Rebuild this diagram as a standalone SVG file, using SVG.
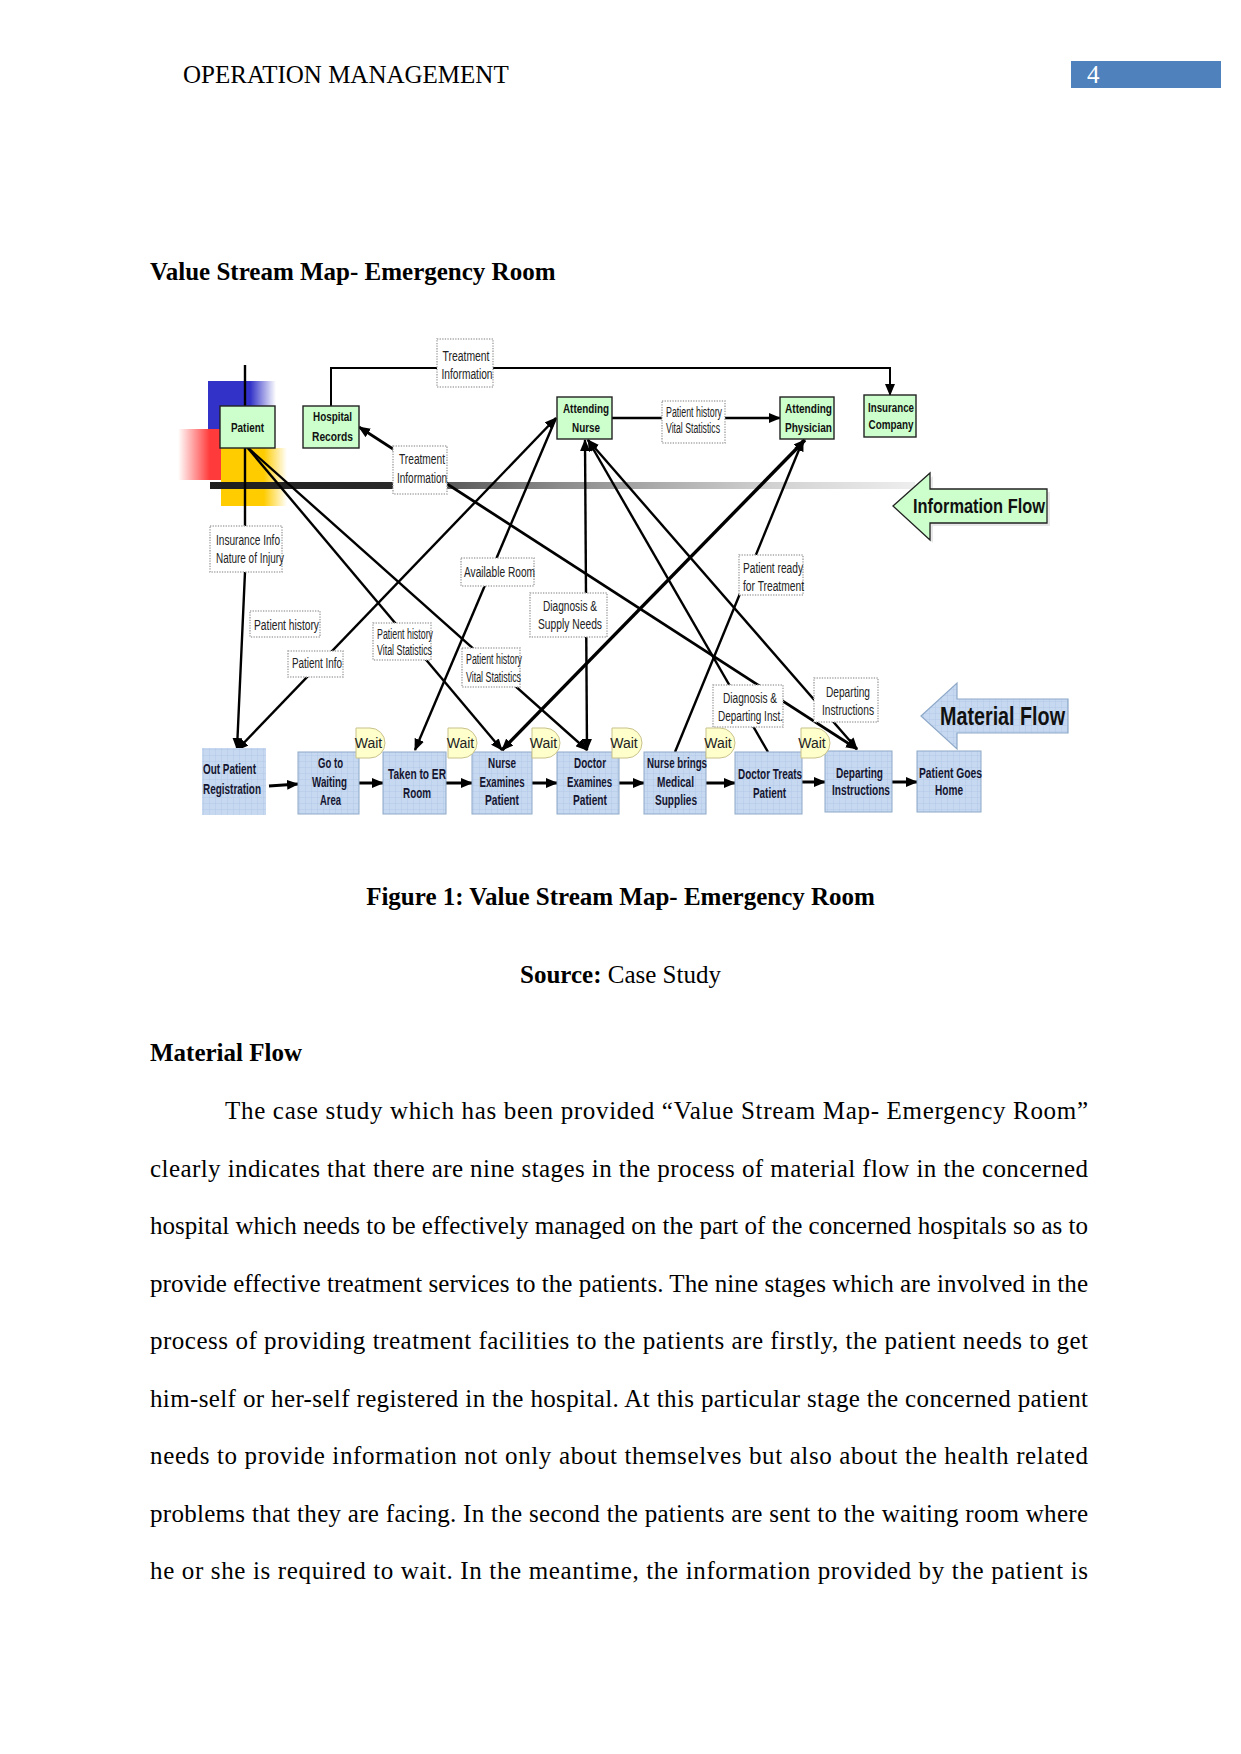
<svg xmlns="http://www.w3.org/2000/svg" width="1241" height="1754" viewBox="0 0 1241 1754">
<style>
.serif{font-family:"Liberation Serif","Times New Roman",serif;font-size:25px;fill:#000}
.b{font-weight:bold}
.gn rect{fill:#ccffcc;stroke:#222;stroke-width:1.4}
.gt{font-family:"Liberation Sans Narrow","Liberation Sans",Arial,sans-serif;font-weight:bold;font-size:13.5px;text-anchor:middle;fill:#111}
.lb rect{fill:#fff;stroke:#a8a8a8;stroke-width:1.5;stroke-dasharray:1.3 1.3}
.lt{font-family:"Liberation Sans Narrow","Liberation Sans",Arial,sans-serif;font-size:14px;text-anchor:middle;fill:#222}
.pn rect{fill:url(#grid);stroke:#8ea8c8;stroke-width:1}
.pt{font-family:"Liberation Sans Narrow","Liberation Sans",Arial,sans-serif;font-weight:bold;font-size:14px;text-anchor:middle;fill:#151530}
.wt path{fill:#ffffcc;stroke:#c9c18c;stroke-width:1}
.wt text{font-family:"Liberation Sans Narrow","Liberation Sans",Arial,sans-serif;font-size:14px;text-anchor:middle;fill:#222}
</style>
<defs>
<pattern id="grid" width="6" height="6" patternUnits="userSpaceOnUse">
<rect width="6" height="6" fill="#c6d9f1"/>
<path d="M6 0V6M0 6H6" stroke="#aac4e4" stroke-width="0.7" fill="none"/>
</pattern>
<linearGradient id="gBlue" x1="0" x2="1" y1="0" y2="0">
<stop offset="0" stop-color="#3232c8"/><stop offset="0.62" stop-color="#3232c8"/><stop offset="1" stop-color="#3232c8" stop-opacity="0"/>
</linearGradient>
<linearGradient id="gRed" x1="0" x2="1" y1="0" y2="0">
<stop offset="0" stop-color="#ff3a3a" stop-opacity="0"/><stop offset="0.55" stop-color="#ff3a3a"/><stop offset="1" stop-color="#ff3a3a"/>
</linearGradient>
<linearGradient id="gYel" x1="0" x2="1" y1="0" y2="0">
<stop offset="0" stop-color="#ffcc00"/><stop offset="0.65" stop-color="#ffcc00"/><stop offset="1" stop-color="#ffcc00" stop-opacity="0"/>
</linearGradient>
<linearGradient id="gBar" x1="0" x2="1" y1="0" y2="0">
<stop offset="0" stop-color="#1e1e1e"/><stop offset="0.26" stop-color="#2a2a2a"/><stop offset="0.34" stop-color="#5a5a5a"/><stop offset="0.5" stop-color="#8c8c8c"/><stop offset="0.8" stop-color="#d2d2d2"/><stop offset="1" stop-color="#eeeeee"/>
</linearGradient>
<marker id="ah" viewBox="0 0 12 10" refX="11" refY="5" markerWidth="12" markerHeight="10" markerUnits="userSpaceOnUse" orient="auto-start-reverse">
<path d="M0,0 L12,5 L0,10 Z" fill="#000"/>
</marker>
</defs>
<rect width="1241" height="1754" fill="#fff"/>

<!-- page header -->
<g id="header">
<text class="serif" x="183" y="83">OPERATION MANAGEMENT</text>
<rect x="1071" y="61" width="150" height="27" fill="#4f81bd"/>
<text class="serif" x="1087" y="83" style="fill:#fff">4</text>
</g>

<text class="serif b" x="150" y="280">Value Stream Map- Emergency Room</text>

<!-- decorative background -->
<g id="decor">
<rect x="208" y="381" width="68" height="49" fill="url(#gBlue)"/>
<rect x="178" y="429" width="58" height="51" fill="url(#gRed)"/>
<rect x="221" y="448" width="66" height="58" fill="url(#gYel)"/>
<rect x="210" y="482" width="705" height="7" fill="url(#gBar)"/>
</g>

<!-- connectors -->
<g id="connectors" stroke="#000" stroke-width="2.4" fill="none">
<polyline points="245,365 245,572 237,749" marker-end="url(#ah)"/>
<line x1="247" y1="447" x2="502" y2="750" marker-end="url(#ah)"/>
<line x1="247" y1="447" x2="587" y2="750" marker-end="url(#ah)"/>
<line x1="237" y1="750" x2="556" y2="418" marker-start="url(#ah)" marker-end="url(#ah)"/>
<line x1="415" y1="750" x2="556" y2="418" marker-start="url(#ah)"/>
<line x1="587" y1="750" x2="585" y2="440" marker-start="url(#ah)" marker-end="url(#ah)"/>
<line x1="857" y1="749" x2="588" y2="440" marker-start="url(#ah)" marker-end="url(#ah)"/>
<line x1="768" y1="752" x2="588" y2="440" marker-end="url(#ah)"/>
<line x1="502" y1="750" x2="805" y2="440" stroke-width="3.4" marker-start="url(#ah)" marker-end="url(#ah)"/>
<line x1="675" y1="752" x2="803" y2="440" marker-end="url(#ah)"/>
<line x1="359" y1="427" x2="857" y2="749" stroke-width="2.8" marker-start="url(#ah)" marker-end="url(#ah)"/>
<polyline points="331,406 331,368 890,368 890,395" stroke-width="2" marker-end="url(#ah)"/>
<line x1="612" y1="418" x2="780" y2="418" marker-end="url(#ah)"/>
<g stroke-width="3">
<line x1="269" y1="786" x2="298" y2="784" marker-end="url(#ah)"/>
<line x1="359" y1="783" x2="383" y2="783" marker-end="url(#ah)"/>
<line x1="446" y1="783" x2="472" y2="783" marker-end="url(#ah)"/>
<line x1="532" y1="783" x2="557" y2="783" marker-end="url(#ah)"/>
<line x1="619" y1="783" x2="644" y2="783" marker-end="url(#ah)"/>
<line x1="706" y1="783" x2="735" y2="783" marker-end="url(#ah)"/>
<line x1="802" y1="782" x2="825" y2="782" marker-end="url(#ah)"/>
<line x1="892" y1="782" x2="917" y2="782" marker-end="url(#ah)"/>
</g>
</g>

<!-- green information nodes -->
<g id="patient" class="gn"><rect x="220" y="406" width="55" height="42"/><text class="gt" x="247.5" y="432" textLength="33" lengthAdjust="spacingAndGlyphs">Patient</text></g>
<g id="hospital-records" class="gn"><rect x="303" y="406" width="56" height="42"/><text class="gt" x="332.5" y="421" textLength="39" lengthAdjust="spacingAndGlyphs">Hospital</text><text class="gt" x="332.5" y="441" textLength="41" lengthAdjust="spacingAndGlyphs">Records</text></g>
<g id="attending-nurse" class="gn"><rect x="557" y="397" width="55" height="42"/><text class="gt" x="586" y="413" textLength="46" lengthAdjust="spacingAndGlyphs">Attending</text><text class="gt" x="586" y="432" textLength="28" lengthAdjust="spacingAndGlyphs">Nurse</text></g>
<g id="attending-physician" class="gn"><rect x="780" y="397" width="54" height="42"/><text class="gt" x="808.5" y="413" textLength="47" lengthAdjust="spacingAndGlyphs">Attending</text><text class="gt" x="808.5" y="432" textLength="47" lengthAdjust="spacingAndGlyphs">Physician</text></g>
<g id="insurance-company" class="gn"><rect x="864" y="395" width="52" height="42"/><text class="gt" x="891" y="412" textLength="46" lengthAdjust="spacingAndGlyphs">Insurance</text><text class="gt" x="891" y="429" textLength="45" lengthAdjust="spacingAndGlyphs">Company</text></g>

<!-- information flow arrow -->
<g id="information-flow">
<polygon points="896,509 933,476 933,492 1050,492 1050,526 933,526 933,543" fill="#d8d8d8" opacity="0.6"/>
<polygon points="893,506 930,473 930,489 1047,489 1047,523 930,523 930,540" fill="#ccffcc" stroke="#222" stroke-width="1.3"/>
<text x="979" y="513" font-family="'Liberation Sans Narrow','Liberation Sans',Arial,sans-serif" font-weight="bold" font-size="21" text-anchor="middle" textLength="132" lengthAdjust="spacingAndGlyphs" fill="#111">Information Flow</text>
</g>

<!-- label boxes -->
<g id="lbl-treatment-info-top" class="lb"><rect x="437" y="339" width="56" height="48"/><text class="lt" x="466" y="361" textLength="47" lengthAdjust="spacingAndGlyphs">Treatment</text><text class="lt" x="467" y="379" textLength="51" lengthAdjust="spacingAndGlyphs">Information</text></g>
<g id="lbl-treatment-info" class="lb"><rect x="393" y="446" width="54" height="48"/><text class="lt" x="422" y="464" textLength="46" lengthAdjust="spacingAndGlyphs">Treatment</text><text class="lt" x="422" y="483" textLength="50" lengthAdjust="spacingAndGlyphs">Information</text></g>
<g id="lbl-insurance-info" class="lb"><rect x="210" y="526" width="72" height="46"/><text class="lt" x="248" y="545" textLength="64" lengthAdjust="spacingAndGlyphs">Insurance Info</text><text class="lt" x="250" y="563" textLength="68" lengthAdjust="spacingAndGlyphs">Nature of Injury</text></g>
<g id="lbl-patient-history" class="lb"><rect x="250" y="611" width="70" height="26"/><text class="lt" x="286.5" y="630" textLength="65" lengthAdjust="spacingAndGlyphs">Patient history</text></g>
<g id="lbl-patient-info" class="lb"><rect x="288" y="651" width="55" height="26"/><text class="lt" x="317" y="668" textLength="50" lengthAdjust="spacingAndGlyphs">Patient Info</text></g>
<g id="lbl-history-vitals-1" class="lb"><rect x="373" y="623" width="58" height="37"/><text class="lt" x="405" y="639" font-size="12.5" textLength="56" lengthAdjust="spacingAndGlyphs">Patient history</text><text class="lt" x="404.5" y="655" font-size="12.5" textLength="55" lengthAdjust="spacingAndGlyphs">Vital Statistics</text></g>
<g id="lbl-history-vitals-2" class="lb"><rect x="462" y="648" width="58" height="39"/><text class="lt" x="494" y="664" font-size="12.5" textLength="56" lengthAdjust="spacingAndGlyphs">Patient history</text><text class="lt" x="493.5" y="682" font-size="12.5" textLength="55" lengthAdjust="spacingAndGlyphs">Vital Statistics</text></g>
<g id="lbl-available-room" class="lb"><rect x="461" y="558" width="73" height="28"/><text class="lt" x="499.5" y="577" textLength="71" lengthAdjust="spacingAndGlyphs">Available Room</text></g>
<g id="lbl-diagnosis-supply" class="lb"><rect x="530" y="593" width="77" height="44"/><text class="lt" x="570" y="611" textLength="54" lengthAdjust="spacingAndGlyphs">Diagnosis &amp;</text><text class="lt" x="570" y="629" textLength="64" lengthAdjust="spacingAndGlyphs">Supply Needs</text></g>
<g id="lbl-history-vitals-top" class="lb"><rect x="662" y="401" width="63" height="42"/><text class="lt" x="694" y="417" font-size="12.5" textLength="56" lengthAdjust="spacingAndGlyphs">Patient history</text><text class="lt" x="693" y="433" font-size="12.5" textLength="54" lengthAdjust="spacingAndGlyphs">Vital Statistics</text></g>
<g id="lbl-patient-ready" class="lb"><rect x="739" y="555" width="64" height="40"/><text class="lt" x="773" y="573" textLength="60" lengthAdjust="spacingAndGlyphs">Patient ready</text><text class="lt" x="773.5" y="591" textLength="61" lengthAdjust="spacingAndGlyphs">for Treatment</text></g>
<g id="lbl-diagnosis-departing" class="lb"><rect x="713" y="685" width="70" height="42"/><text class="lt" x="750" y="703" textLength="54" lengthAdjust="spacingAndGlyphs">Diagnosis &amp;</text><text class="lt" x="750.5" y="721" textLength="65" lengthAdjust="spacingAndGlyphs">Departing Inst.</text></g>
<g id="lbl-departing-instructions" class="lb"><rect x="814" y="678" width="64" height="44"/><text class="lt" x="848" y="697" textLength="44" lengthAdjust="spacingAndGlyphs">Departing</text><text class="lt" x="848" y="715" textLength="52" lengthAdjust="spacingAndGlyphs">Instructions</text></g>

<!-- process (material flow) nodes -->
<g id="out-patient-registration" class="pn"><rect x="202" y="748" width="64" height="67" style="stroke:none"/><text class="pt" x="203" y="774" style="text-anchor:start" textLength="53" lengthAdjust="spacingAndGlyphs">Out Patient</text><text class="pt" x="203" y="794" style="text-anchor:start" textLength="58" lengthAdjust="spacingAndGlyphs">Registration</text></g>
<g id="go-to-waiting-area" class="pn"><rect x="298" y="752" width="61" height="62"/><text class="pt" x="330.5" y="768" textLength="25" lengthAdjust="spacingAndGlyphs">Go to</text><text class="pt" x="329.5" y="787" textLength="35" lengthAdjust="spacingAndGlyphs">Waiting</text><text class="pt" x="330.5" y="805" textLength="21" lengthAdjust="spacingAndGlyphs">Area</text></g>
<g id="taken-to-er-room" class="pn"><rect x="383" y="752" width="63" height="62"/><text class="pt" x="417" y="779" textLength="58" lengthAdjust="spacingAndGlyphs">Taken to ER</text><text class="pt" x="417" y="798" textLength="28" lengthAdjust="spacingAndGlyphs">Room</text></g>
<g id="nurse-examines-patient" class="pn"><rect x="472" y="752" width="60" height="62"/><text class="pt" x="502" y="768" textLength="28" lengthAdjust="spacingAndGlyphs">Nurse</text><text class="pt" x="502" y="787" textLength="45" lengthAdjust="spacingAndGlyphs">Examines</text><text class="pt" x="502" y="805" textLength="34" lengthAdjust="spacingAndGlyphs">Patient</text></g>
<g id="doctor-examines-patient" class="pn"><rect x="557" y="752" width="62" height="62"/><text class="pt" x="590" y="768" textLength="32" lengthAdjust="spacingAndGlyphs">Doctor</text><text class="pt" x="589.5" y="787" textLength="45" lengthAdjust="spacingAndGlyphs">Examines</text><text class="pt" x="590" y="805" textLength="34" lengthAdjust="spacingAndGlyphs">Patient</text></g>
<g id="nurse-brings-medical-supplies" class="pn"><rect x="644" y="752" width="62" height="62"/><text class="pt" x="677" y="768" textLength="60" lengthAdjust="spacingAndGlyphs">Nurse brings</text><text class="pt" x="675.5" y="787" textLength="37" lengthAdjust="spacingAndGlyphs">Medical</text><text class="pt" x="676" y="805" textLength="42" lengthAdjust="spacingAndGlyphs">Supplies</text></g>
<g id="doctor-treats-patient" class="pn"><rect x="735" y="752" width="67" height="62"/><text class="pt" x="770" y="779" textLength="64" lengthAdjust="spacingAndGlyphs">Doctor Treats</text><text class="pt" x="769.5" y="798" textLength="33" lengthAdjust="spacingAndGlyphs">Patient</text></g>
<g id="departing-instructions" class="pn"><rect x="825" y="751" width="67" height="61"/><text class="pt" x="859.5" y="778" textLength="47" lengthAdjust="spacingAndGlyphs">Departing</text><text class="pt" x="861" y="795" textLength="58" lengthAdjust="spacingAndGlyphs">Instructions</text></g>
<g id="patient-goes-home" class="pn"><rect x="917" y="751" width="64" height="61"/><text class="pt" x="950.5" y="778" textLength="63" lengthAdjust="spacingAndGlyphs">Patient Goes</text><text class="pt" x="949" y="795" textLength="28" lengthAdjust="spacingAndGlyphs">Home</text></g>

<!-- wait tags -->
<g id="wait-1" class="wt"><path d="M356 728H370A15 15 0 0 1 370 758H356Z"/><text x="368.5" y="748">Wait</text></g>
<g id="wait-2" class="wt"><path d="M448 728H462A15 15 0 0 1 462 758H448Z"/><text x="460.5" y="748">Wait</text></g>
<g id="wait-3" class="wt"><path d="M532 728H545A15 15 0 0 1 545 758H532Z"/><text x="543.5" y="748">Wait</text></g>
<g id="wait-4" class="wt"><path d="M612 728H627A15 15 0 0 1 627 758H612Z"/><text x="624" y="748">Wait</text></g>
<g id="wait-5" class="wt"><path d="M706 728H720A15 15 0 0 1 720 758H706Z"/><text x="718" y="748">Wait</text></g>
<g id="wait-6" class="wt"><path d="M801 728H815A15 15 0 0 1 815 758H801Z"/><text x="812" y="748">Wait</text></g>

<!-- material flow arrow -->
<g id="material-flow">
<polygon points="921,716 957,683 957,699 1068,699 1068,733 957,733 957,749" fill="url(#grid)" stroke="#8ea8c8" stroke-width="1.2"/>
<text x="1002.5" y="725" font-family="'Liberation Sans Narrow','Liberation Sans',Arial,sans-serif" font-weight="bold" font-size="26" text-anchor="middle" textLength="125" lengthAdjust="spacingAndGlyphs" fill="#111">Material  Flow</text>
</g>

<!-- captions and body -->
<text class="serif b" x="620.5" y="905" text-anchor="middle">Figure 1: Value Stream Map- Emergency Room</text>
<text class="serif" x="620.5" y="983" text-anchor="middle"><tspan font-weight="bold">Source:</tspan> Case Study</text>
<text class="serif b" x="150" y="1061">Material Flow</text>
<g id="body" class="serif">
<text x="225" y="1119" textLength="863" lengthAdjust="spacing">The case study which has been provided “Value Stream Map- Emergency Room”</text>
<text x="150" y="1176.5" textLength="938" lengthAdjust="spacing">clearly indicates that there are nine stages in the process of material flow in the concerned</text>
<text x="150" y="1234" textLength="938" lengthAdjust="spacing">hospital which needs to be effectively managed on the part of the concerned hospitals so as to</text>
<text x="150" y="1291.5" textLength="938" lengthAdjust="spacing">provide effective treatment services to the patients. The nine stages which are involved in the</text>
<text x="150" y="1349" textLength="938" lengthAdjust="spacing">process of providing treatment facilities to the patients are firstly, the patient needs to get</text>
<text x="150" y="1406.5" textLength="938" lengthAdjust="spacing">him-self or her-self registered in the hospital. At this particular stage the concerned patient</text>
<text x="150" y="1464" textLength="938" lengthAdjust="spacing">needs to provide information not only about themselves but also about the health related</text>
<text x="150" y="1521.5" textLength="938" lengthAdjust="spacing">problems that they are facing. In the second the patients are sent to the waiting room where</text>
<text x="150" y="1579" textLength="938" lengthAdjust="spacing">he or she is required to wait. In the meantime, the information provided by the patient is</text>
</g>
</svg>
